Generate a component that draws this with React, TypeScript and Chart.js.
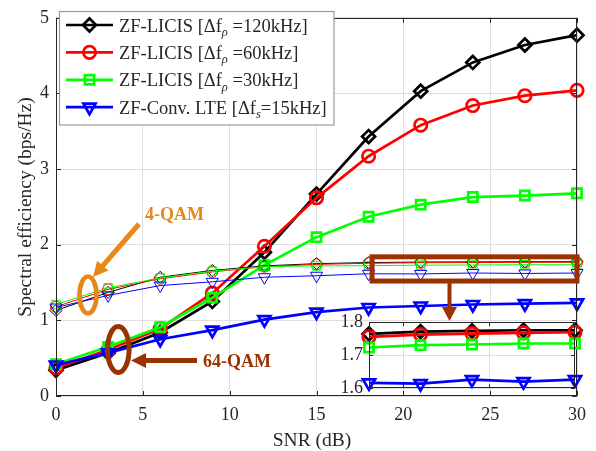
import React, { useEffect, useRef } from 'react';
import { Chart, registerables } from 'chart.js';

Chart.register(...registerables);

// ---------- data ----------
const snr = [0, 3, 6, 9, 12, 15, 18, 21, 24, 27, 30];

// 64-QAM (thick curves)
const qam64_120 = [0.34, 0.57, 0.84, 1.25, 1.9, 2.67, 3.43, 4.03, 4.41, 4.64, 4.77];
const qam64_60 = [0.37, 0.61, 0.89, 1.36, 1.98, 2.62, 3.17, 3.58, 3.84, 3.97, 4.04];
const qam64_30 = [0.42, 0.65, 0.91, 1.3, 1.73, 2.1, 2.37, 2.53, 2.63, 2.65, 2.68];
const qam64_lte = [0.41, 0.57, 0.75, 0.87, 1.01, 1.11, 1.17, 1.19, 1.21, 1.22, 1.23];

// 4-QAM (thin curves)
const qam4_120 = [1.13, 1.37, 1.57, 1.66, 1.72, 1.75, 1.764, 1.771, 1.773, 1.775, 1.775];
const qam4_60 = [1.18, 1.41, 1.55, 1.64, 1.71, 1.74, 1.755, 1.762, 1.765, 1.767, 1.769];
const qam4_30 = [1.21, 1.43, 1.56, 1.65, 1.71, 1.72, 1.723, 1.73, 1.732, 1.735, 1.735];
const qam4_lte = [1.17, 1.33, 1.46, 1.51, 1.57, 1.59, 1.616, 1.614, 1.626, 1.62, 1.626];

const xTicks = [0, 5, 10, 15, 20, 25, 30];
const yTicks = [0, 1, 2, 3, 4, 5];
const insetXTicks = [20, 25];
const insetYTicks = [1.6, 1.7, 1.8];
const insetXRange = [18, 30];
const insetYRange = [1.6, 1.8];
const zoomBoxX = [18.2, 30];
const zoomBoxY = [1.52, 1.84];

const legendEntries = [
  { pre: 'ZF-LICIS [\u0394f', sub: '\u03c1', post: ' =120kHz]' },
  { pre: 'ZF-LICIS [\u0394f', sub: '\u03c1', post: ' =60kHz]' },
  { pre: 'ZF-LICIS [\u0394f', sub: '\u03c1', post: ' =30kHz]' },
  { pre: 'ZF-Conv. LTE [\u0394f', sub: 's', post: '=15kHz]' },
];
const xTitle = 'SNR (dB)';
const yTitle = 'Spectral efficiency (bps/Hz)';
const label4 = '4-QAM';
const label64 = '64-QAM';

// ---------- styles ----------
const FONT = '"Liberation Serif", "Times New Roman", serif';
const AXIS = '#262626';
const GRID = '#dedede';
const COLORS = ['#000000', '#ff0000', '#00ff00', '#0000ff'];
const STYLES = ['rectRot', 'circle', 'rect', 'triangle'];
const R_THICK = [6.5, 6.2, 6.5, 7];
const R_THIN = [6, 5.5, 6, 7];
const LW_THICK = 2.7;
const ORANGE = '#e6891a';
const BROWN = '#993300';

const thickSeries = [qam64_120, qam64_60, qam64_30, qam64_lte];
const thinSeries = [qam4_120, qam4_60, qam4_30, qam4_lte];

const pts = (ys: number[], xs: number[]) => xs.map((x, i) => ({ x, y: ys[i] }));

function markerPath(ctx: CanvasRenderingContext2D, style: string, x: number, y: number, r: number) {
  ctx.beginPath();
  if (style === 'rectRot') {
    ctx.moveTo(x - r, y);
    ctx.lineTo(x, y - r);
    ctx.lineTo(x + r, y);
    ctx.lineTo(x, y + r);
    ctx.closePath();
  } else if (style === 'circle') {
    ctx.arc(x, y, r, 0, Math.PI * 2);
  } else if (style === 'rect') {
    const s = Math.SQRT1_2 * r;
    ctx.rect(x - s, y - s, 2 * s, 2 * s);
  } else {
    let a = Math.PI;
    ctx.moveTo(x + Math.sin(a) * r, y - Math.cos(a) * r);
    a += (2 * Math.PI) / 3;
    ctx.lineTo(x + Math.sin(a) * r, y - Math.cos(a) * r);
    a += (2 * Math.PI) / 3;
    ctx.lineTo(x + Math.sin(a) * r, y - Math.cos(a) * r);
    ctx.closePath();
  }
}

function arrow(ctx: CanvasRenderingContext2D, x1: number, y1: number, x2: number, y2: number, color: string, lw: number, hl: number, hw: number) {
  const dx = x2 - x1;
  const dy = y2 - y1;
  const len = Math.hypot(dx, dy);
  const ux = dx / len;
  const uy = dy / len;
  const bx = x2 - ux * hl;
  const by = y2 - uy * hl;
  ctx.save();
  ctx.strokeStyle = color;
  ctx.fillStyle = color;
  ctx.lineWidth = lw;
  ctx.lineCap = 'butt';
  ctx.beginPath();
  ctx.moveTo(x1, y1);
  ctx.lineTo(bx + ux * 1, by + uy * 1);
  ctx.stroke();
  ctx.beginPath();
  ctx.moveTo(x2, y2);
  ctx.lineTo(bx - uy * hw, by + ux * hw);
  ctx.lineTo(bx + uy * hw, by - ux * hw);
  ctx.closePath();
  ctx.fill();
  ctx.restore();
}

function drawBoxAndTicks(ctx: CanvasRenderingContext2D, chart: any, xt: number[], yt: number[], tl: number) {
  const { left, right, top, bottom } = chart.chartArea;
  const xs = chart.scales.x;
  const ys = chart.scales.y;
  ctx.save();
  ctx.strokeStyle = AXIS;
  ctx.lineWidth = 1;
  ctx.beginPath();
  ctx.rect(Math.round(left) + 0.5, Math.round(top) + 0.5, Math.round(right - left) - 1, Math.round(bottom - top) - 1);
  ctx.stroke();
  ctx.beginPath();
  xt.forEach((v) => {
    const px = Math.round(xs.getPixelForValue(v)) + 0.5;
    ctx.moveTo(px, bottom);
    ctx.lineTo(px, bottom - tl);
    ctx.moveTo(px, top);
    ctx.lineTo(px, top + tl);
  });
  yt.forEach((v) => {
    const py = Math.round(ys.getPixelForValue(v)) + 0.5;
    ctx.moveTo(left, py);
    ctx.lineTo(left + tl, py);
    ctx.moveTo(right, py);
    ctx.lineTo(right - tl, py);
  });
  ctx.stroke();
  ctx.restore();
}

const mainPlugin = {
  id: 'mainDecor',
  afterDatasetsDraw(chart: any) {
    const ctx: CanvasRenderingContext2D = chart.ctx;
    const xs = chart.scales.x;
    const ys = chart.scales.y;
    drawBoxAndTicks(ctx, chart, xTicks, yTicks, 5);

    // axis titles
    ctx.save();
    ctx.fillStyle = AXIS;
    ctx.font = `19.5px ${FONT}`;
    ctx.textAlign = 'center';
    ctx.textBaseline = 'alphabetic';
    ctx.fillText(xTitle, 312, 446);
    ctx.translate(31, (chart.chartArea.top + chart.chartArea.bottom) / 2);
    ctx.rotate(-Math.PI / 2);
    ctx.fillText(yTitle, 0, 0);
    ctx.restore();

    // zoom rectangle
    ctx.save();
    ctx.strokeStyle = BROWN;
    ctx.lineWidth = 5;
    const rx1 = xs.getPixelForValue(zoomBoxX[0]);
    const rx2 = xs.getPixelForValue(zoomBoxX[1]);
    const ry1 = ys.getPixelForValue(zoomBoxY[1]);
    const ry2 = ys.getPixelForValue(zoomBoxY[0]);
    ctx.strokeRect(rx1, ry1, rx2 - rx1, ry2 - ry1);
    ctx.restore();
    arrow(ctx, 449.5, ry2 + 2, 449.5, 321, BROWN, 4, 14, 7.5);

    // 4-QAM annotation
    ctx.save();
    ctx.strokeStyle = ORANGE;
    ctx.lineWidth = 4.7;
    ctx.beginPath();
    ctx.ellipse(88, 295, 8.5, 18.5, 0, 0, Math.PI * 2);
    ctx.stroke();
    ctx.restore();
    arrow(ctx, 139, 224, 93, 277, ORANGE, 5, 15, 7.5);

    // 64-QAM annotation
    ctx.save();
    ctx.strokeStyle = BROWN;
    ctx.lineWidth = 5;
    ctx.beginPath();
    ctx.ellipse(118.3, 349.5, 10.8, 23, 0, 0, Math.PI * 2);
    ctx.stroke();
    ctx.restore();
    arrow(ctx, 197, 360.5, 131, 360.5, BROWN, 5, 15, 7.5);

    ctx.save();
    ctx.font = `bold 18px ${FONT}`;
    ctx.textAlign = 'left';
    ctx.textBaseline = 'alphabetic';
    ctx.fillStyle = ORANGE;
    ctx.fillText(label4, 145, 220);
    ctx.fillStyle = BROWN;
    ctx.fillText(label64, 203, 367);
    ctx.restore();

    // legend
    ctx.save();
    ctx.fillStyle = '#ffffff';
    ctx.fillRect(59.5, 11.5, 274.5, 113.5);
    ctx.strokeStyle = '#9a9a9a';
    ctx.lineWidth = 1.2;
    ctx.strokeRect(59.5, 11.5, 274.5, 113.5);
    legendEntries.forEach((e, i) => {
      const y = 25 + i * 27.4;
      ctx.strokeStyle = COLORS[i];
      ctx.lineWidth = LW_THICK;
      ctx.beginPath();
      ctx.moveTo(66, y);
      ctx.lineTo(113, y);
      ctx.stroke();
      markerPath(ctx, STYLES[i], 89.5, y, R_THICK[i]);
      ctx.stroke();
      ctx.fillStyle = AXIS;
      ctx.textAlign = 'left';
      ctx.textBaseline = 'alphabetic';
      ctx.font = `18.5px ${FONT}`;
      let tx = 119;
      ctx.fillText(e.pre, tx, y + 6.5);
      tx += ctx.measureText(e.pre).width;
      ctx.font = `italic 12.5px ${FONT}`;
      ctx.fillText(e.sub, tx, y + 11);
      tx += ctx.measureText(e.sub).width;
      ctx.font = `18.5px ${FONT}`;
      ctx.fillText(e.post, tx, y + 6.5);
    });
    ctx.restore();
  },
};

const insetPlugin = {
  id: 'insetDecor',
  beforeDraw(chart: any) {
    const { left, right, top, bottom } = chart.chartArea;
    const ctx: CanvasRenderingContext2D = chart.ctx;
    ctx.save();
    ctx.fillStyle = '#ffffff';
    ctx.fillRect(left, top, right - left, bottom - top);
    ctx.restore();
  },
  afterDatasetsDraw(chart: any) {
    drawBoxAndTicks(chart.ctx, chart, insetXTicks, insetYTicks, 4);
  },
};

function makeDatasets(series: number[][], xs: number[], lw: number, radii: number[], orderBase: number) {
  return series.map((d, i) => ({
    data: pts(d, xs),
    borderColor: COLORS[i],
    backgroundColor: 'rgba(0,0,0,0)',
    borderWidth: lw,
    pointStyle: STYLES[i],
    pointRadius: radii[i],
    pointBorderWidth: lw,
    pointBorderColor: COLORS[i],
    pointBackgroundColor: 'rgba(0,0,0,0)',
    pointRotation: STYLES[i] === 'triangle' ? 180 : 0,
    order: orderBase - i,
    clip: false as any,
    tension: 0,
  }));
}

export default function App() {
  const mainRef = useRef<HTMLCanvasElement>(null);
  const insetRef = useRef<HTMLCanvasElement>(null);

  useEffect(() => {
    document.body.style.margin = '0';
    const tickFont = { family: FONT, size: 18 };

    const main = new Chart(mainRef.current!, {
      type: 'line',
      data: {
        datasets: [
          ...makeDatasets(thickSeries, snr, LW_THICK, R_THICK, 8),
          ...makeDatasets(thinSeries, snr, 1, R_THIN, 4),
        ] as any,
      },
      options: {
        responsive: false,
        animation: false,
        devicePixelRatio: 1,
        events: [],
        layout: { padding: { left: 0, top: 11, right: 19, bottom: 0 } },
        plugins: { legend: { display: false }, tooltip: { enabled: false } },
        scales: {
          x: {
            type: 'linear',
            min: 0,
            max: 30,
            afterBuildTicks: (s: any) => {
              s.ticks = xTicks.map((v) => ({ value: v }));
            },
            afterFit: (s: any) => {
              s.height = 55;
            },
            grid: { color: GRID, drawTicks: false, lineWidth: 1 },
            border: { display: false },
            ticks: { font: tickFont, color: AXIS, padding: 8, maxRotation: 0, autoSkip: false },
          },
          y: {
            type: 'linear',
            min: 0,
            max: 5,
            afterBuildTicks: (s: any) => {
              s.ticks = yTicks.map((v) => ({ value: v }));
            },
            afterFit: (s: any) => {
              s.width = 56;
            },
            grid: { color: GRID, drawTicks: false, lineWidth: 1 },
            border: { display: false },
            ticks: { font: tickFont, color: AXIS, padding: 7 },
          },
        },
      } as any,
      plugins: [mainPlugin],
    });

    const insetIdx = snr.map((x, i) => (x >= insetXRange[0] ? i : -1)).filter((i) => i >= 0);
    const insetX = insetIdx.map((i) => snr[i]);
    const insetSeries = thinSeries.map((s) => insetIdx.map((i) => s[i]));

    const inset = new Chart(insetRef.current!, {
      type: 'line',
      data: { datasets: makeDatasets(insetSeries, insetX, LW_THICK, R_THICK, 4) as any },
      options: {
        responsive: false,
        animation: false,
        devicePixelRatio: 1,
        events: [],
        layout: { padding: { left: 0, top: 17, right: 21, bottom: 0 } },
        plugins: { legend: { display: false }, tooltip: { enabled: false } },
        scales: {
          x: {
            type: 'linear',
            min: insetXRange[0],
            max: insetXRange[1],
            afterBuildTicks: (s: any) => {
              s.ticks = insetXTicks.map((v) => ({ value: v }));
            },
            afterFit: (s: any) => {
              s.height = 10;
            },
            grid: { color: GRID, drawTicks: false, lineWidth: 1 },
            border: { display: false },
            ticks: { display: false },
          },
          y: {
            type: 'linear',
            min: insetYRange[0],
            max: insetYRange[1],
            afterBuildTicks: (s: any) => {
              s.ticks = insetYTicks.map((v) => ({ value: v }));
            },
            afterFit: (s: any) => {
              s.width = 39;
            },
            grid: { color: GRID, drawTicks: false, lineWidth: 1 },
            border: { display: false },
            ticks: {
              font: tickFont,
              color: AXIS,
              padding: 6,
              callback: (v: any) => Number(v).toFixed(1),
            },
          },
        },
      } as any,
      plugins: [insetPlugin],
    });

    return () => {
      main.destroy();
      inset.destroy();
    };
  }, []);

  return (
    <div style={{ position: 'fixed', left: 0, top: 0, width: 596, height: 451, background: '#ffffff' }}>
      <canvas ref={mainRef} width={596} height={451} style={{ display: 'block', width: 596, height: 451 }} />
      <canvas
        ref={insetRef}
        width={266}
        height={100}
        style={{ position: 'absolute', left: 330, top: 305, width: 266, height: 100 }}
      />
    </div>
  );
}
